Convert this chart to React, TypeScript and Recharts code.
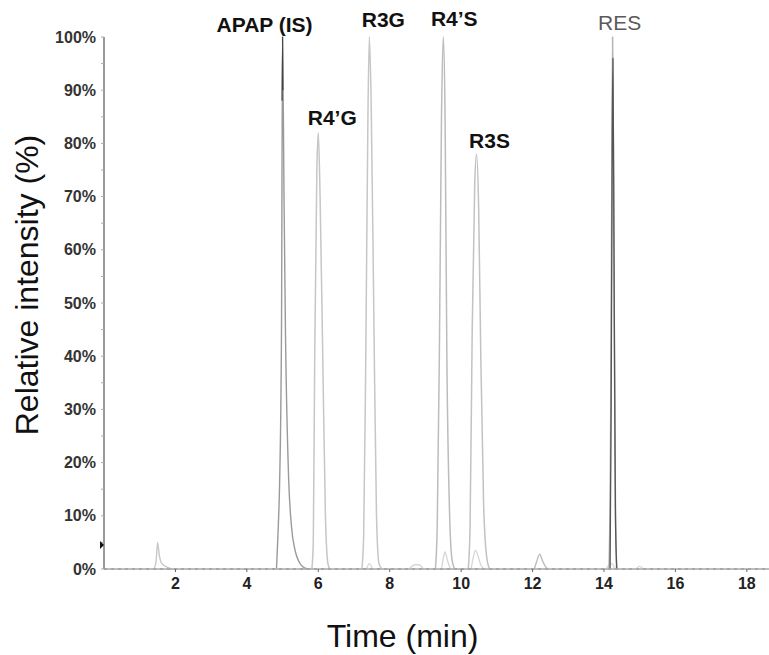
import { Line, LineChart, ReferenceDot, ReferenceLine, XAxis, YAxis } from "recharts";

// chromatogram traces, [time (min), relative intensity (%)]; null breaks a trace
const SMALL_EARLY: [number, number | null][] = [
  [1.4, 0], [1.46, 1.5], [1.5, 5], [1.55, 2.5], [1.62, 1], [1.75, 0.4], [1.9, 0],
];
const APAP: [number, number | null][] = [
  [4.83, 0], [4.88, 8], [4.92, 17], [4.97, 45], [5.0, 100], [5.04, 70], [5.08, 45],
  [5.17, 17], [5.25, 8], [5.35, 3.5], [5.45, 1.5], [5.55, 0.5], [5.7, 0],
];
const APAP_TOP: [number, number | null][] = [
  [4.985, 88], [5.0, 100], [5.01, 90],
];
const R4G: [number, number | null][] = [
  [5.82, 0], [5.86, 5], [5.9, 40], [5.96, 75], [6.0, 82], [6.05, 70], [6.12, 42],
  [6.2, 10], [6.27, 1], [6.32, 0],
];
const R3G: [number, number | null][] = [
  [7.22, 0], [7.27, 6], [7.33, 40], [7.39, 85], [7.43, 100], [7.48, 88], [7.56, 45],
  [7.63, 10], [7.7, 1], [7.78, 0],
];
const R4S: [number, number | null][] = [
  [9.28, 0], [9.33, 8], [9.39, 40], [9.45, 85], [9.5, 100], [9.55, 85], [9.6, 40],
  [9.67, 12], [9.74, 2], [9.82, 0],
];
const R3S: [number, number | null][] = [
  [10.2, 0], [10.25, 8], [10.31, 45], [10.38, 72], [10.43, 78], [10.49, 68],
  [10.55, 40], [10.63, 12], [10.72, 2], [10.8, 0],
];
const MINOR: [number, number | null][] = [
  [7.35, 0], [7.43, 1], [7.52, 0], [7.53, null],
  [8.55, 0], [8.7, 0.8], [8.8, 0.8], [8.95, 0], [8.96, null],
  [9.45, 0], [9.5, 2], [9.55, 3.2], [9.62, 1.5], [9.7, 0], [9.71, null],
  [10.28, 0], [10.35, 2.5], [10.4, 3.5], [10.47, 2.5], [10.55, 0.8], [10.65, 0], [10.66, null],
  [14.05, 0], [14.15, 0.8], [14.22, 1], [14.3, 0], [14.31, null],
  [14.9, 0], [15.0, 0.5], [15.1, 0],
];
const LATE: [number, number | null][] = [
  [12.05, 0], [12.12, 1.5], [12.2, 2.8], [12.28, 1.5], [12.38, 0.3], [12.45, 0],
];
const RES_LIGHT: [number, number | null][] = [
  [14.14, 0], [14.18, 20], [14.22, 75], [14.24, 100], [14.27, 70], [14.31, 20], [14.35, 0],
];
const RES_DARK: [number, number | null][] = [
  [14.17, 0], [14.2, 30], [14.23, 80], [14.25, 96], [14.28, 60], [14.32, 10], [14.36, 0],
];

const PEAK_NAMES = ["APAP (IS)", "R4’G", "R3G", "R4’S", "R3S", "RES"];
const PEAK_TIMES = [5.0, 6.0, 7.43, 9.5, 10.43, 14.24];
const PEAK_HEIGHTS = [100, 82, 100, 100, 78, 100];

const X_TICKS = [2, 4, 6, 8, 10, 12, 14, 16, 18];
const Y_TICKS = [0, 5, 10, 15, 20, 25, 30, 35, 40, 45, 50, 55, 60, 65, 70, 75, 80, 85, 90, 95, 100];

// label styling, in pixels relative to each peak apex
const LABEL_STYLE = [
  { dx: -18, dy: -5, bold: true, color: "#111" },
  { dx: 14, dy: -8, bold: true, color: "#111" },
  { dx: 14, dy: -10, bold: true, color: "#111" },
  { dx: 11, dy: -11, bold: true, color: "#111" },
  { dx: 13, dy: -6, bold: true, color: "#111" },
  { dx: 7, dy: -7, bold: false, color: "#5a5a5a" },
];

const FONT = "Arial, 'Liberation Sans', sans-serif";
const toRows = (pts: [number, number | null][]) => pts.map(([t, v]) => ({ t, v }));

const SERIES = [
  { key: "early", pts: SMALL_EARLY, color: "#c8c8c8", width: 1.4 },
  { key: "minor", pts: MINOR, color: "#d6d6d6", width: 1.3 },
  { key: "late", pts: LATE, color: "#bdbdbd", width: 1.4 },
  { key: "r4g", pts: R4G, color: "#c6c6c6", width: 1.5 },
  { key: "r3g", pts: R3G, color: "#c6c6c6", width: 1.5 },
  { key: "r4s", pts: R4S, color: "#bcbcbc", width: 1.5 },
  { key: "r3s", pts: R3S, color: "#c2c2c2", width: 1.5 },
  { key: "apap", pts: APAP, color: "#9a9a9a", width: 1.4 },
  { key: "apapTop", pts: APAP_TOP, color: "#444444", width: 1.1 },
  { key: "resLight", pts: RES_LIGHT, color: "#b4b4b4", width: 1.5 },
  { key: "resDark", pts: RES_DARK, color: "#555555", width: 1.3 },
];

function PeakLabel(props: any) {
  const { cx, cy, name, style } = props;
  return (
    <text
      x={cx + style.dx}
      y={cy + style.dy}
      textAnchor="middle"
      fontFamily={FONT}
      fontSize={21}
      fontWeight={style.bold ? 700 : 400}
      fill={style.color}
    >
      {name}
    </text>
  );
}

function Marker(props: any) {
  const { cx, cy } = props;
  return <path d={`M${cx - 4},${cy - 4} L${cx},${cy} L${cx - 4},${cy + 4} Z`} fill="#111" />;
}

export default function App() {
  return (
    <div style={{ position: "absolute", left: 0, top: 0, background: "#fff" }}>
      <LineChart
        width={769}
        height={655}
        margin={{ top: 37, right: 0, bottom: 56, left: 0 }}
      >
        <XAxis
          dataKey="t"
          type="number"
          domain={[0, 18.62]}
          allowDataOverflow
          ticks={X_TICKS}
          height={30}
          axisLine={{ stroke: "#a8a8a8", strokeWidth: 1.5 }}
          tickLine={{ stroke: "#666" }}
          tickSize={3}
          tickMargin={6}
          tick={{ fill: "#222", fontSize: 16, fontWeight: 700, fontFamily: FONT }}
          label={{
            content: (p: any) => (
              <text
                x={p.viewBox.x + p.viewBox.width / 2 - 34}
                y={p.viewBox.y + 78}
                textAnchor="middle"
                fontFamily={FONT}
                fontSize={32}
                fill="#111"
              >
                Time (min)
              </text>
            ),
          }}
        />
        <YAxis
          type="number"
          domain={[0, 100]}
          ticks={Y_TICKS}
          width={104}
          interval={0}
          axisLine={{ stroke: "#9a9a9a", strokeWidth: 2 }}
          tickLine={{ stroke: "#aaa" }}
          tickSize={3}
          tickMargin={5}
          tickFormatter={(v: number) => (v % 10 === 0 ? `${v}%` : "")}
          tick={{ fill: "#333", fontSize: 16, fontWeight: 700, fontFamily: FONT }}
          label={{
            content: (p: any) => (
              <text
                x={38}
                y={p.viewBox.y + p.viewBox.height / 2 - 18}
                transform={`rotate(-90 38 ${p.viewBox.y + p.viewBox.height / 2 - 18})`}
                textAnchor="middle"
                fontFamily={FONT}
                fontSize={32}
                fill="#111"
              >
                Relative intensity (%)
              </text>
            ),
          }}
        />
        <ReferenceLine y={0} stroke="#444" strokeDasharray="3 4" strokeWidth={1} />
        {SERIES.map((s) => (
          <Line
            key={s.key}
            data={toRows(s.pts)}
            dataKey="v"
            type="monotone"
            stroke={s.color}
            strokeWidth={s.width}
            dot={false}
            activeDot={false}
            connectNulls={false}
            isAnimationActive={false}
          />
        ))}
        <ReferenceDot x={0} y={4.5} r={4} ifOverflow="visible" shape={<Marker />} />
        {PEAK_NAMES.map((name, i) => (
          <ReferenceDot
            key={name}
            x={PEAK_TIMES[i]}
            y={PEAK_HEIGHTS[i]}
            r={1}
            ifOverflow="visible"
            shape={<PeakLabel name={name} style={LABEL_STYLE[i]} />}
          />
        ))}
      </LineChart>
    </div>
  );
}
